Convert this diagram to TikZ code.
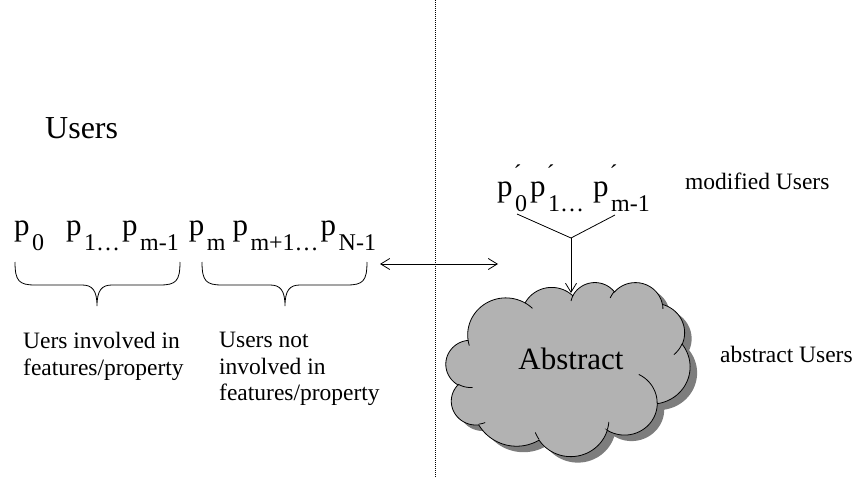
\documentclass[tikz,border=0pt]{standalone}
\usepackage{fontspec}
\setmainfont{Liberation Serif}
\usetikzlibrary{arrows.meta}

\definecolor{cloudfill}{RGB}{178,178,178}
\definecolor{cloudshade}{RGB}{125,125,125}

% lowered subscript and raised prime for the p symbols
\newcommand\sbs[1]{\hspace{2.5pt}\raisebox{-15pt}{\fontsize{24}{24}\selectfont #1}}
\newcommand\prm{\rlap{\raisebox{15pt}{\fontsize{24}{24}\selectfont\hspace{1pt}´}}}

% cloud outline built from elliptical arcs (shape box: origin, width, height)
\def\clOX{446}\def\clOY{282}\def\clW{244}\def\clH{174}
\newcommand\clMove[2]{%
  \pgfmathsetmacro\clCurX{\clOX+#1/43.2*\clW}%
  \pgfmathsetmacro\clCurY{\clOY+#2/43.2*\clH}%
  \xdef\clCurX{\clCurX}\xdef\clCurY{\clCurY}}
\newcommand\clArc[5]{% path macro, wR, hR, start angle, sweep
  \pgfmathsetmacro\clRx{#2/43.2*\clW}%
  \pgfmathsetmacro\clRy{#3/43.2*\clH}%
  \pgfmathsetmacro\clAs{#4}%
  \pgfmathsetmacro\clAe{#4+#5}%
  \pgfmathsetmacro\clTs{atan2(#2*sin(\clAs),#3*cos(\clAs))}%
  \pgfmathsetmacro\clTs{\clTs+360*round((\clAs-\clTs)/360)}%
  \pgfmathsetmacro\clTe{atan2(#2*sin(\clAe),#3*cos(\clAe))}%
  \pgfmathsetmacro\clTe{\clTe+360*round((\clAe-\clTe)/360)}%
  \pgfmathsetmacro\clCx{\clCurX-\clRx*cos(\clTs)}%
  \pgfmathsetmacro\clCy{\clCurY-\clRy*sin(\clTs)}%
  \xdef#1{\unexpanded\expandafter{#1} -- plot[domain=\clTs:\clTe,samples=30]({\clCx+\clRx*cos(\noexpand\x)},{\clCy+\clRy*sin(\noexpand\x)})}%
  \pgfmathsetmacro\clCurX{\clCx+\clRx*cos(\clTe)}%
  \pgfmathsetmacro\clCurY{\clCy+\clRy*sin(\clTe)}%
  \xdef\clCurX{\clCurX}\xdef\clCurY{\clCurY}}
\newcommand\clCurl[6]{% inner curl: start u, v, wR, hR, start angle, sweep
  \clMove{#1}{#2}%
  \xdef\clInner{\unexpanded\expandafter{\clInner} (\clCurX,\clCurY)}%
  \clArc\clInner{#3}{#4}{#5}{#6}}

\tikzset{
  lbl/.style={inner sep=0pt, font=\fontsize{23.5}{26.5}\selectfont, align=left},
  sym/.style={inner sep=0pt, font=\fontsize{31}{31}\selectfont},
  thin line/.style={line width=0.8pt},
  barb/.tip={Straight Barb[length=9pt,width=11pt,line width=0.8pt]},
}

\begin{document}
\begin{tikzpicture}[x=1pt,y=-1pt]
\useasboundingbox (0,0) rectangle (854,481);

% ---- cloud outline ----
\clMove{3.900}{14.370}
\xdef\clOuter{(\clCurX,\clCurY)}
\clArc\clOuter{6.753}{9.190}{-190.48748}{123.78053}
\clArc\clOuter{5.333}{7.267}{-144.10238}{89.94523}
\clArc\clOuter{4.365}{5.945}{-145.80792}{99.72302}
\clArc\clOuter{4.857}{6.595}{-130.98607}{117.24173}
\clArc\clOuter{5.333}{7.273}{-78.70888}{109.02692}
\clArc\clOuter{6.775}{9.220}{-46.26725}{130.269}
\clArc\clOuter{5.785}{7.867}{0.62502}{114.03333}
\clArc\clOuter{6.752}{9.215}{22.4516}{115.17255}
\clArc\clOuter{7.720}{10.543}{66.24263}{75.71102}
\clArc\clOuter{4.360}{5.918}{-274.94208}{146.73557}
\clArc\clOuter{4.345}{5.945}{-246.8285}{152.51885}
% ---- inner curls ----
\gdef\clInner{}
\clCurl{4.693}{26.177}{4.345}{5.945}{86.742}{26.4295}
\clCurl{6.928}{34.899}{4.360}{5.918}{73.61047}{11.44747}
\clCurl{16.478}{39.090}{6.752}{9.215}{137.62415}{14.0811}
\clCurl{28.827}{34.751}{6.752}{9.215}{6.45327}{15.99835}
\clCurl{34.129}{22.954}{5.785}{7.867}{-70.29235}{70.91737}
\clCurl{41.798}{15.354}{5.333}{7.273}{30.31803}{27.7515}
\clCurl{38.324}{5.426}{4.857}{6.595}{-13.74433}{14.8589}
\clCurl{29.078}{3.952}{4.857}{6.595}{-149.18145}{18.19537}
\clCurl{22.141}{4.720}{4.365}{5.945}{-163.49427}{17.68635}
\clCurl{14.000}{5.192}{6.753}{9.190}{-66.70695}{12.31935}
\clCurl{4.127}{15.789}{6.753}{9.190}{157.65435}{11.85817}

\fill[cloudshade, shift={(7,6)}] \clOuter -- cycle;
\filldraw[fill=cloudfill, draw=black, thin line] \clOuter -- cycle;
\draw[thin line] \clInner;

% ---- divider ----
\coordinate (divtop) at (435,0);
\coordinate (divbot) at (435,478);
\draw[line width=0.8pt, dash pattern=on 1pt off 1pt] (divtop) -- (divbot);

% ---- left side ----
\node[sym, font=\fontsize{32}{32}\selectfont, anchor=base west] (users) at (45,139) {Users};
\node[sym, anchor=base west] (prow) at (14,236)
  {p\sbs{0}\hspace{22pt}p\sbs{1…}\hspace{2pt}p\sbs{m-1}\hspace{10pt}p\sbs{m}\hspace{7pt}p\sbs{m+1…}\hspace{2pt}p\sbs{N-1}};

% braces under the two groups
\draw[thin line] (15,262) .. controls (15,281) and (19,285) .. (35,285) -- (82,285)
  .. controls (92,285) and (97,290) .. (97,306)
  .. controls (97,290) and (102,285) .. (112,285) -- (160,285)
  .. controls (176,285) and (180,281) .. (180,262);
\draw[thin line] (202,262) .. controls (202,281) and (206,285) .. (222,285) -- (270,285)
  .. controls (280,285) and (285,290) .. (285,306)
  .. controls (285,290) and (290,285) .. (300,285) -- (347,285)
  .. controls (363,285) and (367,281) .. (367,262);

\node[lbl, anchor=north west] (inv) at (23,332) {Uers involved in\\features/property};
\node[lbl, anchor=north west] (notinv) at (219,332) {Users not\\involved in\\features/property};

% ---- link between the two halves ----
\coordinate (linkL) at (380,264);
\coordinate (linkR) at (498,264);
\draw[thin line, barb-barb] (linkL) -- (linkR);

% ---- right side ----
\node[sym, anchor=base west] (pmod) at (497,197)
  {p\prm\sbs{0}\hspace{3pt}p\prm\sbs{1…}\hspace{9pt}p\prm\sbs{m-1}};
\node[lbl, anchor=base west] (modlbl) at (685,190) {modified Users};

\coordinate (jl) at (517,214);
\coordinate (jr) at (615,215);
\coordinate (junc) at (571,238);
\coordinate (cloudtop) at (571,293);
\draw[thin line] (jl) -- (junc) -- (jr);
\draw[thin line, -barb] (junc) -- (cloudtop);

\node[sym, anchor=base] (abs) at (571,369) {Abstract};
\node[lbl, anchor=base west] (abslbl) at (720,362) {abstract Users};
\end{tikzpicture}
\end{document}
